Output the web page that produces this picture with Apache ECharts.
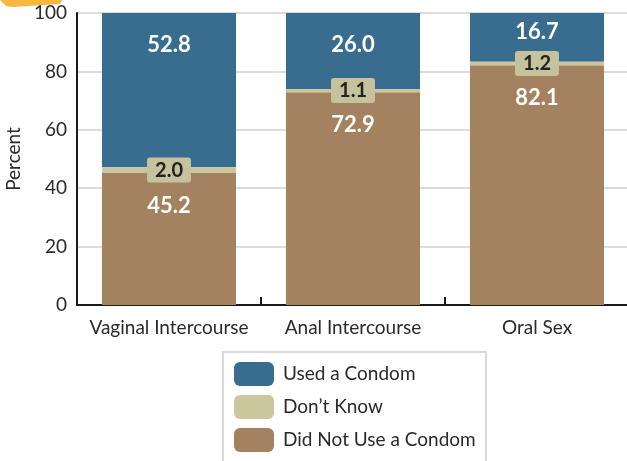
<!DOCTYPE html>
<html>
<head>
<meta charset="utf-8">
<script src="https://cdn.jsdelivr.net/npm/echarts@6/dist/echarts.min.js"></script>
<style>
  html, body { margin: 0; padding: 0; background: #ffffff; }
  #chart { width: 627px; height: 461px; }
</style>
</head>
<body>
<div id="chart"></div>
<script>
// Condom use by type of sexual activity (percent)
const categories = ['Vaginal Intercourse', 'Anal Intercourse', 'Oral Sex'];
const usedCondom = [52.8, 26.0, 16.7];
const dontKnow = [2.0, 1.1, 1.2];
const didNotUse = [45.2, 72.9, 82.1];
const yTicks = { min: 0, max: 100, interval: 20 };

const FONT = 'Lato, "Open Sans", sans-serif';
const BLUE = '#386d8f';
const KHAKI = '#cbc69c';
const TAN = '#a4825f';

const chart = echarts.init(document.getElementById('chart'), null, { renderer: 'canvas' });

const usedData = usedCondom.map((v, i) => (
  i === 2 ? { value: v, label: { distance: 8 } } : v
));

chart.setOption({
  animation: false,
  backgroundColor: '#ffffff',
  textStyle: { fontFamily: FONT },
  graphic: [
    {
      type: 'polygon',
      shape: { points: [[0, 0], [62, 0], [60, 4], [12, 7], [6, 6]] },
      style: { fill: '#f7b83e' },
      z: 10
    },
    {
      // legend frame, running past the bottom edge
      type: 'rect',
      shape: { x: 223, y: 352, width: 263, height: 130 },
      style: { fill: 'none', stroke: '#d9d9d9', lineWidth: 2 },
      z: 0
    }
  ],
  grid: { left: 77, right: -2, top: 13, bottom: 156, outerBoundsMode: 'none', containLabel: false },
  legend: {
    orient: 'vertical',
    left: 223,
    top: 352,
    padding: [10, 10, 8, 11],
    itemGap: 9,
    itemWidth: 40,
    itemHeight: 24,
    icon: 'roundRect',
    data: ['Used a Condom', 'Don\u2019t Know', 'Did Not Use a Condom'],
    textStyle: { fontFamily: FONT, fontSize: 19, color: '#2a2a2a', padding: [0, 0, 0, 4] }
  },
  xAxis: {
    type: 'category',
    data: categories,
    axisLine: { lineStyle: { color: '#1a1a1a', width: 2 } },
    axisTick: { show: true, inside: true, interval: 0, length: 8, lineStyle: { color: '#1a1a1a', width: 2 } },
    axisLabel: { interval: 0, fontFamily: FONT, fontSize: 19, color: '#2a2a2a', margin: 13 }
  },
  yAxis: {
    type: 'value',
    min: yTicks.min,
    max: yTicks.max,
    interval: yTicks.interval,
    name: 'Percent',
    nameLocation: 'middle',
    nameRotate: 90,
    nameGap: 49,
    nameTextStyle: { fontFamily: FONT, fontSize: 19, color: '#2a2a2a' },
    axisLine: { show: true, lineStyle: { color: '#1a1a1a', width: 2 } },
    axisTick: { show: false },
    axisLabel: { fontFamily: FONT, fontSize: 19, color: '#2a2a2a', margin: 10 },
    splitLine: { lineStyle: { color: '#dcdcdc', width: 2 } }
  },
  series: [
    {
      name: 'Did Not Use a Condom',
      type: 'bar',
      stack: 'total',
      barWidth: 134,
      data: didNotUse,
      itemStyle: { color: TAN },
      label: {
        show: true,
        position: 'insideTop',
        distance: 22,
        fontFamily: FONT,
        fontSize: 22,
        fontWeight: 'bold',
        color: '#ffffff',
        formatter: p => p.value.toFixed(1)
      }
    },
    {
      name: 'Don\u2019t Know',
      type: 'bar',
      stack: 'total',
      data: dontKnow,
      itemStyle: { color: KHAKI },
      label: {
        show: true,
        position: 'inside',
        fontFamily: FONT,
        fontSize: 20,
        fontWeight: 'bold',
        color: '#222222',
        backgroundColor: '#c6c29d',
        borderRadius: 3,
        padding: [2, 8, 2, 8],
        lineHeight: 21,
        formatter: p => p.value.toFixed(1)
      },
      z: 3
    },
    {
      name: 'Used a Condom',
      type: 'bar',
      stack: 'total',
      data: usedData,
      itemStyle: { color: BLUE },
      label: {
        show: true,
        position: 'insideTop',
        distance: 21,
        fontFamily: FONT,
        fontSize: 22,
        fontWeight: 'bold',
        color: '#ffffff',
        formatter: p => p.value.toFixed(1)
      }
    }
  ]
});
</script>
</body>
</html>
